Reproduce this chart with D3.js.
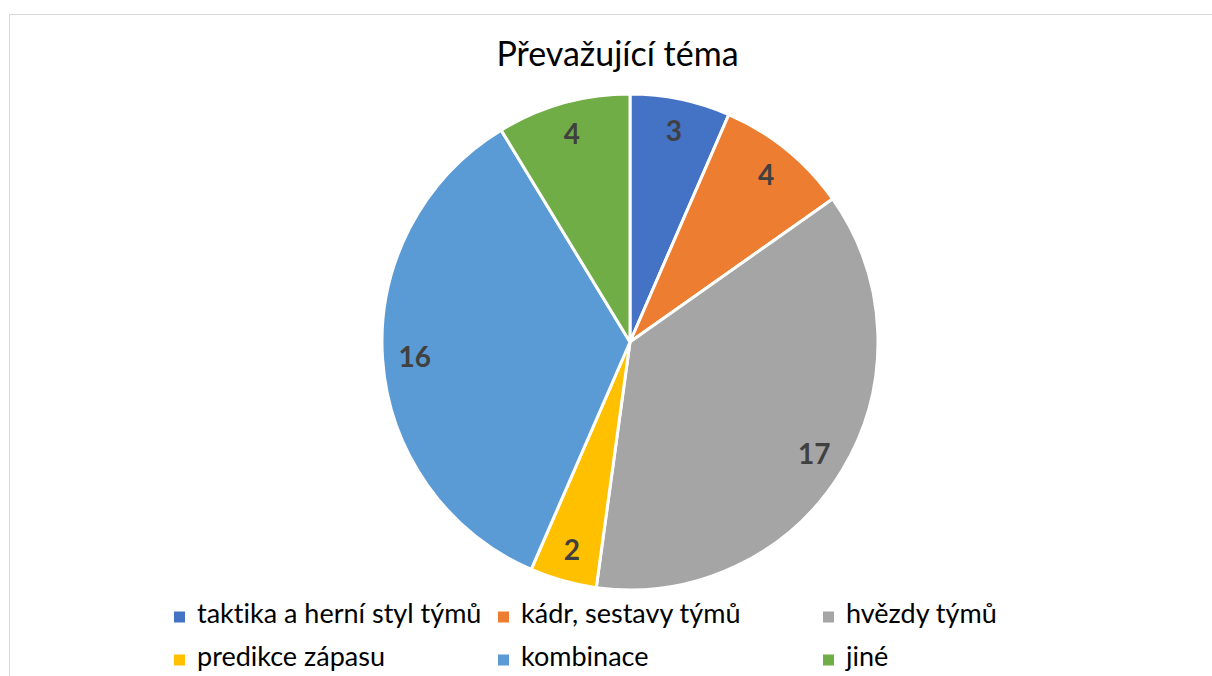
<!DOCTYPE html>
<html>
<head>
<meta charset="utf-8">
<script src="https://cdn.jsdelivr.net/npm/d3@7"></script>
<style>
  body { margin: 0; background: #fff; }
  text { font-family: Lato, "Open Sans", sans-serif; font-variant-ligatures: none; }
</style>
</head>
<body>
<div id="chart"></div>
<script>
const categories = ["taktika a herní styl týmů", "kádr, sestavy týmů", "hvězdy týmů",
                    "predikce zápasu", "kombinace", "jiné"];
const values = [3, 4, 17, 2, 16, 4];
const colors = ["#4472C4", "#ED7D31", "#A5A5A5", "#FFC000", "#5B9BD5", "#70AD47"];
const title = "Převažující téma";

const width = 1212, height = 676;
const cx = 630, cy = 342, radius = 248;

const svg = d3.select("#chart").append("svg")
    .attr("width", width)
    .attr("height", height);

// chart area border
svg.append("rect")
    .attr("x", 9.5).attr("y", 14.5)
    .attr("width", 1220).attr("height", 700)
    .attr("fill", "none")
    .attr("stroke", "#d9d9d9")
    .attr("stroke-width", 1);

svg.append("text")
    .attr("x", 617.5).attr("y", 66)
    .attr("text-anchor", "middle")
    .style("font-size", "34px")
    .style("fill", "#000")
    .text(title);

const pie = d3.pie().sort(null).value(d => d)(values);
const arc = d3.arc().innerRadius(0).outerRadius(radius);
const labelArc = d3.arc().innerRadius(radius * 0.87).outerRadius(radius * 0.87);

const g = svg.append("g").attr("transform", "translate(" + cx + "," + cy + ")");

g.selectAll("path")
    .data(pie)
    .enter().append("path")
    .attr("d", arc)
    .attr("fill", (d, i) => colors[i])
    .attr("stroke", "#fff")
    .attr("stroke-width", 3)
    .attr("stroke-linejoin", "round");

g.selectAll("text.lbl")
    .data(pie)
    .enter().append("text")
    .attr("class", "lbl")
    .attr("transform", d => "translate(" + labelArc.centroid(d) + ")")
    .attr("text-anchor", "middle")
    .attr("dy", "0.36em")
    .style("font-size", "28px")
    .style("font-weight", "bold")
    .style("fill", "#404040")
    .text(d => d.data);

// legend
const colX = [174, 498, 823];
const rowY = [617, 660];
const legend = svg.append("g");
categories.forEach(function (c, i) {
    const x = colX[i % 3], y = rowY[Math.floor(i / 3)];
    legend.append("rect")
        .attr("x", x).attr("y", y - 5.5)
        .attr("width", 11).attr("height", 11)
        .attr("fill", colors[i]);
    legend.append("text")
        .attr("x", x + 23).attr("y", y + 6)
        .style("font-size", "27px")
        .style("fill", "#000")
        .text(c);
});
</script>
</body>
</html>
